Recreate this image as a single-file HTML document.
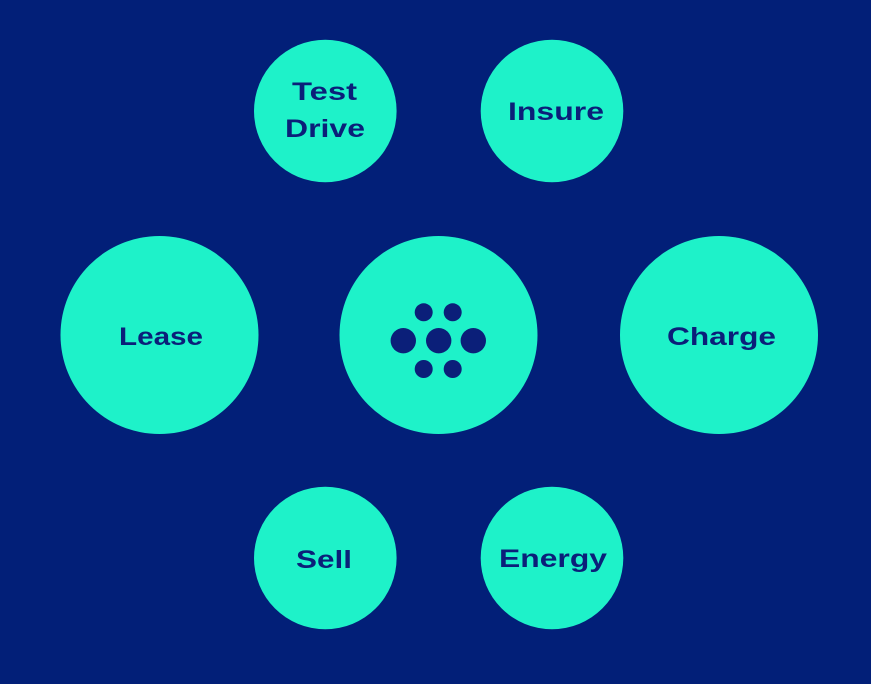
<!DOCTYPE html>
<html><head><meta charset="utf-8"><style>
html,body{margin:0;padding:0;background:#021f78;}
svg{display:block}
text{font-family:"Liberation Sans",sans-serif;font-weight:bold;font-size:25px;fill:#0b1f79;}
</style></head><body>
<svg width="871" height="684" viewBox="0 0 871 684" xmlns="http://www.w3.org/2000/svg">
<rect width="871" height="684" fill="#021f78"/>
<g fill="#1ef2c9">
<circle cx="325.3" cy="111" r="71.3"/>
<circle cx="552" cy="111" r="71.3"/>
<circle cx="159.5" cy="335" r="99"/>
<circle cx="438.5" cy="335" r="99"/>
<circle cx="719" cy="335" r="99"/>
<circle cx="325.3" cy="558" r="71.3"/>
<circle cx="552" cy="558" r="71.3"/>
</g>
<g fill="#0b1f79">
<circle cx="423.7" cy="312.3" r="9"/>
<circle cx="452.7" cy="312.3" r="9"/>
<circle cx="423.7" cy="369" r="9"/>
<circle cx="452.7" cy="369" r="9"/>
<circle cx="403.3" cy="340.7" r="12.7"/>
<circle cx="438.7" cy="340.7" r="12.7"/>
<circle cx="473.3" cy="340.7" r="12.7"/>
</g>
<text x="292" y="100" textLength="65" lengthAdjust="spacingAndGlyphs">Test</text>
<text x="285" y="137" textLength="80" lengthAdjust="spacingAndGlyphs">Drive</text>
<text x="508" y="120" textLength="96" lengthAdjust="spacingAndGlyphs">Insure</text>
<text x="119" y="345" textLength="84" lengthAdjust="spacingAndGlyphs">Lease</text>
<text x="667" y="345" textLength="109" lengthAdjust="spacingAndGlyphs">Charge</text>
<text x="296" y="568" textLength="56" lengthAdjust="spacingAndGlyphs">Sell</text>
<text x="499" y="567" textLength="108" lengthAdjust="spacingAndGlyphs">Energy</text>
</svg>
</body></html>
